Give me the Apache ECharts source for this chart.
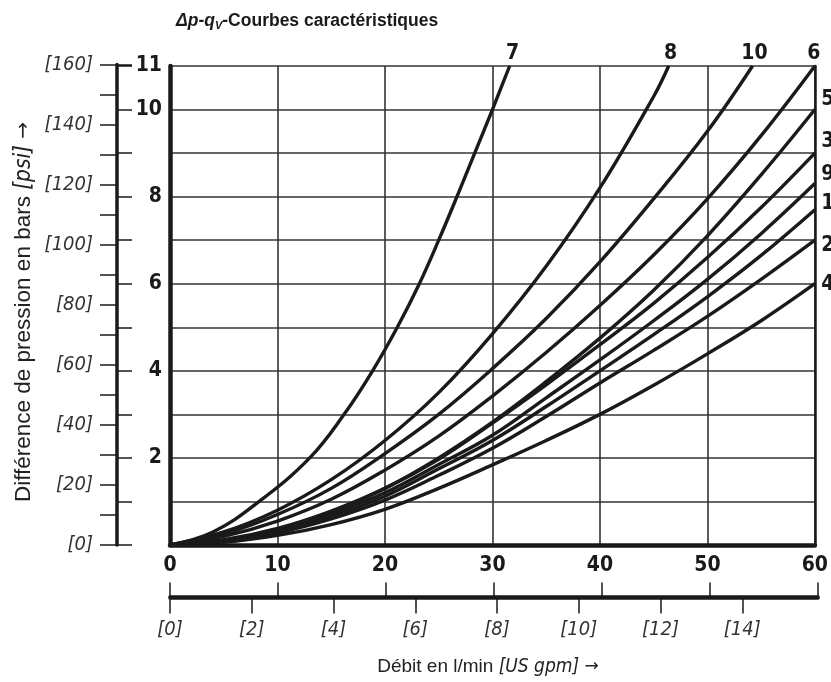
<!DOCTYPE html>
<html lang="fr">
<head>
<meta charset="utf-8">
<script src="https://cdn.jsdelivr.net/npm/echarts@6/dist/echarts.min.js"></script>
<style>
  html, body { margin: 0; padding: 0; background: #fff; }
  #main { width: 831px; height: 682px; }
</style>
</head>
<body>
<div id="main"></div>
<script>
var curve7  = [[0,0],[4,0.3],[8.3,1],[13,2],[16.2,3],[18.85,4],[21.15,5],[23.2,6],[25,7],[26.7,8],[28.35,9],[30,10],[31.6,11]];
var curve8  = [[0,0],[5,0.3],[10,0.8],[15,1.5],[20,2.4],[25,3.5],[30,4.85],[35,6.4],[40,8.2],[45,10.3],[46.4,11]];
var curve10 = [[0,0],[5,0.25],[10,0.7],[15,1.3],[20,2.1],[25,3.0],[30,4.05],[35,5.2],[40,6.5],[45,7.95],[50,9.5],[54.2,11]];
var curve6  = [[0,0],[5,0.2],[10,0.55],[15,1.05],[20,1.72],[25,2.5],[30,3.42],[35,4.42],[40,5.5],[45,6.66],[50,7.95],[55,9.4],[60,11]];
var curve5  = [[0,0],[5,0.1],[10,0.35],[15,0.75],[20,1.3],[25,2.0],[30,2.82],[35,3.75],[40,4.75],[45,5.85],[50,7.1],[55,8.5],[60,10]];
var curve3  = [[0,0],[5,0.12],[10,0.38],[15,0.78],[20,1.3],[25,1.97],[30,2.8],[35,3.68],[40,4.6],[45,5.55],[50,6.6],[55,7.75],[60,9]];
var curve9  = [[0,0],[5,0.1],[10,0.35],[15,0.72],[20,1.2],[25,1.85],[30,2.52],[35,3.38],[40,4.25],[45,5.15],[50,6.1],[55,7.15],[60,8.3]];
var curve1  = [[0,0],[5,0.1],[10,0.32],[15,0.66],[20,1.12],[25,1.75],[30,2.4],[35,3.18],[40,4.0],[45,4.83],[50,5.7],[55,6.65],[60,7.7]];
var curve2  = [[0,0],[5,0.08],[10,0.28],[15,0.6],[20,1.03],[25,1.6],[30,2.22],[35,2.95],[40,3.72],[45,4.47],[50,5.25],[55,6.1],[60,7.0]];
var curve4  = [[0,0],[5,0.06],[10,0.22],[15,0.47],[20,0.82],[25,1.3],[30,1.84],[35,2.4],[40,3.0],[45,3.67],[50,4.39],[55,5.15],[60,6.0]];

var curveNames = ['7', '8', '10', '6', '5', '3', '9', '1', '2', '4'];
var curves = [curve7, curve8, curve10, curve6, curve5, curve3, curve9, curve1, curve2, curve4];

var barLabels = [2, 4, 6, 8, 10, 11];
var psiLabels = [0, 20, 40, 60, 80, 100, 120, 140, 160];
var gpmLabels = [0, 2, 4, 6, 8, 10, 12, 14];

var LPM_PER_GPM = 3.785;
var PSI_PER_BAR = 14.5038;

var numFont = '"Liberation Sans Narrow", "DejaVu Sans Condensed", sans-serif';
var txtFont = '"Liberation Sans", Arial, sans-serif';
var arrowFont = '"DejaVu Sans", sans-serif';
var ink = '#1a1a1a';

// positions des numéros de courbe (hors données)
var labelPos = ['top', 'top', 'top', 'top', 'right', 'right', 'right', 'right', 'right', 'right'];
var labelOff = [[3,0],[2,0],[2,0],[-1,0],[0,-10],[0,-12],[0,-9],[0,-6],[0,5],[0,1]];

var psiHeight = 160 / PSI_PER_BAR * 479 / 11;

var series = curves.map(function (c, i) {
    var data = c.map(function (p, j) {
        if (j < c.length - 1) return p;
        return {
            value: p,
            label: {
                show: true,
                position: labelPos[i],
                distance: labelPos[i] == 'top' ? 1 : 6,
                offset: labelOff[i],
                formatter: curveNames[i],
                fontFamily: numFont,
                fontWeight: 'bold',
                fontSize: 21,
                color: ink
            }
        };
    });
    return {
        name: curveNames[i],
        type: 'line',
        xAxisIndex: 0,
        yAxisIndex: 0,
        data: data,
        smooth: 0.4,
        symbol: 'circle',
        symbolSize: 1,
        showSymbol: true,
        showAllSymbol: true,
        clip: false,
        silent: true,
        itemStyle: { color: ink },
        lineStyle: { color: ink, width: 3.4 },
        z: 5
    };
});

var myChart = echarts.init(document.getElementById('main'), null, { renderer: 'canvas' });

myChart.setOption({
    animation: false,
    backgroundColor: '#fff',
    grid: [
        { left: 170, top: 66, width: 648, height: 479 },                       // diagramme
        { left: 117, top: 545 - psiHeight, width: 1, height: psiHeight },      // échelle psi
        { left: 170, top: 596.5, width: 648, height: 1 }                        // règle l/min - gpm
    ],
    xAxis: [
        {
            gridIndex: 0, type: 'value', min: 0, max: 60, interval: 10,
            axisLine: { show: true, onZero: false, lineStyle: { color: ink, width: 4.5 } },
            axisTick: { show: false },
            axisLabel: { margin: 10, fontFamily: numFont, fontWeight: 'bold', fontSize: 21, color: ink },
            splitLine: { show: true, lineStyle: { color: '#333', width: 1.6 } }
        },
        {
            gridIndex: 2, type: 'value', position: 'top', min: 0, max: 60, interval: 10,
            axisLine: { show: true, onZero: false, lineStyle: { color: ink, width: 3.5 } },
            axisTick: { show: true, length: 14, lineStyle: { color: ink, width: 1.5 } },
            axisLabel: { show: false },
            splitLine: { show: false }
        },
        {
            gridIndex: 2, type: 'value', position: 'bottom', min: 0, max: 60 / LPM_PER_GPM, interval: 2,
            axisLine: { show: true, onZero: false, lineStyle: { color: ink, width: 3.5 } },
            axisTick: { show: true, length: 16, lineStyle: { color: ink, width: 1.5 } },
            axisLabel: {
                margin: 22, fontFamily: numFont, fontStyle: 'italic', fontSize: 20, color: '#333',
                showMaxLabel: false,
                formatter: function (v) { return gpmLabels.indexOf(v) >= 0 ? '[' + v + ']' : ''; }
            },
            splitLine: { show: false }
        },
        { gridIndex: 1, type: 'value', show: false, min: 0, max: 1 }
    ],
    yAxis: [
        {
            gridIndex: 0, type: 'value', min: 0, max: 11, interval: 1,
            axisLine: { show: true, onZero: false, lineStyle: { color: ink, width: 4.5 } },
            axisTick: { show: false },
            axisLabel: {
                margin: 8, fontFamily: numFont, fontWeight: 'bold', fontSize: 21, color: ink,
                formatter: function (v) { return barLabels.indexOf(v) >= 0 ? String(v) : ''; }
            },
            splitLine: { show: true, lineStyle: { color: '#333', width: 1.6 } }
        },
        {
            gridIndex: 0, type: 'value', position: 'right', min: 0, max: 11,
            axisLine: { show: true, onZero: false, lineStyle: { color: ink, width: 2.5 } },
            axisTick: { show: false }, axisLabel: { show: false }, splitLine: { show: false }
        },
        {
            gridIndex: 1, type: 'value', position: 'left', min: 0, max: 160, interval: 10,
            axisLine: { show: true, onZero: false, lineStyle: { color: ink, width: 3.5 } },
            axisTick: { show: true, length: 17, lineStyle: { color: ink, width: 1.5 } },
            axisLabel: {
                margin: 24, fontFamily: numFont, fontStyle: 'italic', fontSize: 20, color: '#333',
                formatter: function (v) { return psiLabels.indexOf(v) >= 0 ? '[' + v + ']' : ''; }
            },
            splitLine: { show: false }
        },
        {
            gridIndex: 1, type: 'value', position: 'left', min: 0, max: 160 / PSI_PER_BAR, interval: 1,
            axisLine: { show: false },
            axisTick: { show: true, inside: true, length: 15, lineStyle: { color: ink, width: 1.5 } },
            axisLabel: { show: false },
            splitLine: { show: false }
        },
        { gridIndex: 2, type: 'value', show: false, min: 0, max: 1 }
    ],
    graphic: [
        {
            type: 'text', left: 176, top: 12,
            style: {
                text: '{i|Δp}{b|-}{i|q}{s|V}{b|-Courbes caractéristiques}',
                rich: {
                    i: { fontFamily: txtFont, fontWeight: 'bold', fontStyle: 'italic', fontSize: 17.5, fill: ink },
                    b: { fontFamily: txtFont, fontWeight: 'bold', fontSize: 17.5, fill: ink },
                    s: { fontFamily: txtFont, fontWeight: 'bold', fontStyle: 'italic', fontSize: 11, fill: ink, padding: [10, 0, 0, 0] }
                }
            }
        },
        {
            type: 'text', x: 24, y: 312, rotation: Math.PI / 2,
            style: {
                text: '{a|Différence de pression en bars }{b|[psi]}{c| →}',
                align: 'center', verticalAlign: 'middle',
                rich: {
                    a: { fontFamily: txtFont, fontSize: 22.5, fill: '#222' },
                    b: { fontFamily: numFont, fontStyle: 'italic', fontSize: 22.5, fill: '#222' },
                    c: { fontFamily: arrowFont, fontSize: 20, fill: '#222' }
                }
            }
        },
        {
            type: 'text', x: 488, y: 667,
            style: {
                text: '{a|Débit en l/min }{b|[US gpm]}{c| →}',
                align: 'center', verticalAlign: 'middle',
                rich: {
                    a: { fontFamily: txtFont, fontSize: 19, fill: '#222' },
                    b: { fontFamily: numFont, fontStyle: 'italic', fontSize: 19, fill: '#222' },
                    c: { fontFamily: arrowFont, fontSize: 17, fill: '#222' }
                }
            }
        }
    ],
    series: series
});
</script>
</body>
</html>
